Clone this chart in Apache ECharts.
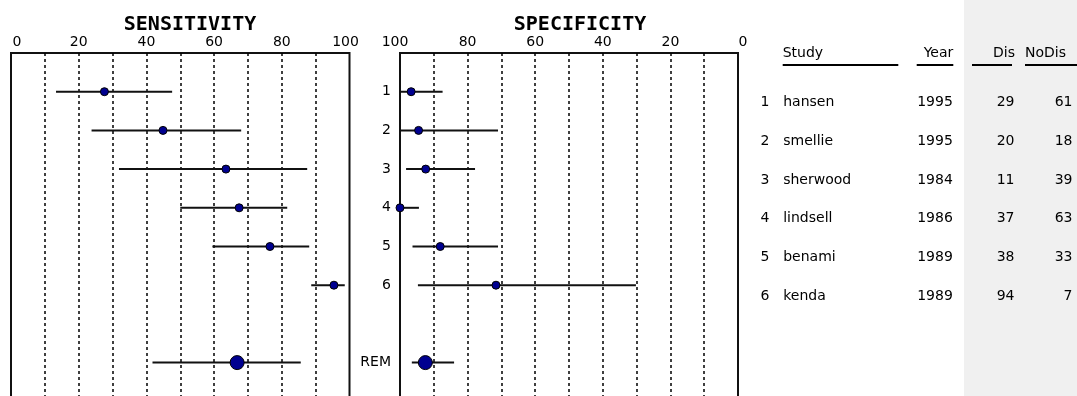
<!DOCTYPE html>
<html><head><meta charset="utf-8">
<script src="https://cdn.jsdelivr.net/npm/echarts@6/dist/echarts.min.js"></script>
<style>html,body{margin:0;padding:0;background:#fff}#c{width:1077px;height:396px}</style>
</head><body><div id="c"></div>
<script>
// ---- data ----
const studyNo   = ['1','2','3','4','5','6'];
const studyName = ['hansen','smellie','sherwood','lindsell','benami','kenda'];
const years     = [1995,1995,1984,1986,1989,1989];
const dis       = [29,20,11,37,38,94];
const noDis     = [61,18,39,63,33,7];
const sensPt = [27.6,44.9,63.5,67.4,76.5,95.4];
const sensLo = [13.3,23.8,31.9,50.0,59.5,88.7];
const sensHi = [47.6,68.0,87.5,81.6,88.1,98.6];
const specPt = [96.7,94.5,92.4,100,88.1,71.6];
const specLo = [87.4,71.0,77.8,94.4,71.0,30.2];
const specHi = [100,100,98.2,100,96.3,94.7];
const pooledLabel = 'REM';
const remSens = [66.8,41.8,85.6]; // point, lo, hi
const remSpec = [92.5,84.0,96.5];
const xTicks = [0,20,40,60,80,100];

// row positions (studies 1..6, pooled after a one-row gap)
const rowPos = studyNo.map((_, i) => i + 1);
const remPos = rowPos.length + 2;
const rowLabelMap = {};
rowPos.forEach((p, i) => rowLabelMap[p] = studyNo[i]);
rowLabelMap[remPos] = pooledLabel;

const FONT = 'DejaVu Sans';
const DOT = '#000090';
const INK = '#000';

function ciData(lo, hi, extraLo, extraHi) {
  const d = rowPos.map((p, i) => [lo[i], hi[i], p]);
  d.push([extraLo, extraHi, remPos]);
  return d;
}
function ptData(pt) { return rowPos.map((p, i) => [pt[i], p]); }

function ciSeries(xi, data) {
  return {
    type: 'custom', xAxisIndex: xi, yAxisIndex: xi, data: data, z: 3,
    renderItem: function (params, api) {
      const a = api.coord([api.value(0), api.value(2)]);
      const b = api.coord([api.value(1), api.value(2)]);
      return { type: 'line', shape: { x1: a[0], y1: a[1], x2: b[0], y2: b[1] },
               style: { stroke: '#111', lineWidth: 2 } };
    }
  };
}
function dotSeries(xi, data, size) {
  return { type: 'scatter', xAxisIndex: xi, yAxisIndex: xi, data: data, symbolSize: size, z: 4,
           itemStyle: { color: DOT, borderColor: '#000', borderWidth: 1, opacity: 1 } };
}

const gridTop = 53, gridH = 348.3;
function xAxisCfg(gi, inverse, minPad, maxPad) {
  return {
    type: 'value', gridIndex: gi, position: 'top', min: 0, max: 100, interval: 10, inverse: inverse,
    axisLine: { show: false }, axisTick: { show: false },
    splitLine: { show: true, showMinLine: false, showMaxLine: false,
                 lineStyle: { color: '#000', type: [3, 3], width: 1.5 } },
    axisLabel: {
      margin: 4, color: INK, fontFamily: FONT, fontSize: 14,
      formatter: v => v === 0 ? '{a|0}' : (v === 100 ? '{b|100}' : (xTicks.indexOf(v) >= 0 ? String(v) : '')),
      rich: {
        a: { fontFamily: FONT, fontSize: 14, color: INK, padding: minPad },
        b: { fontFamily: FONT, fontSize: 14, color: INK, padding: maxPad }
      }
    }
  };
}
function yAxisCfg(gi, showLabels) {
  return {
    type: 'value', gridIndex: gi, min: 0, max: 9, interval: 1, inverse: true,
    axisLine: { show: false }, axisTick: { show: false }, splitLine: { show: false },
    axisLabel: showLabels ? {
      show: true, margin: 9, color: INK, fontFamily: FONT, fontSize: 14,
      formatter: v => rowLabelMap[v] || ''
    } : { show: false }
  };
}

// table columns (grid-relative x positions)
const colNumR = 30, colNameL = 42.7, colYearR = 213.3, colDisR = 275, colNoDisR = 333;
function tableCol(x, values, align) {
  return {
    type: 'scatter', xAxisIndex: 2, yAxisIndex: 2, symbolSize: 1, silent: true,
    itemStyle: { color: 'rgba(0,0,0,0)', opacity: 1 },
    data: rowPos.map((p, i) => [x, p, String(values[i])]),
    label: { show: true, position: align === 'right' ? 'left' : 'right', distance: 0,
             formatter: q => q.value[2], color: INK, fontFamily: FONT, fontSize: 14 }
  };
}

const chart = echarts.init(document.getElementById('c'), null, { renderer: 'canvas' });
const hdrY = 53, ulY = 65;
function hdr(text, x, align) {
  return { type: 'text', x: x, y: hdrY, z: 10,
           style: { text: text, fill: INK, font: '14px ' + FONT, textAlign: align, textVerticalAlign: 'middle' } };
}
function ul(x1, x2) {
  return { type: 'line', z: 10, shape: { x1: x1, y1: ulY, x2: x2, y2: ulY }, style: { stroke: INK, lineWidth: 2 } };
}

chart.setOption({
  animation: false,
  backgroundColor: '#fff',
  title: [
    { text: 'SENSITIVITY', left: 185, top: 10, textAlign: 'center',
      textStyle: { fontFamily: 'DejaVu Sans Mono', fontWeight: 'bold', fontSize: 20, color: INK } },
    { text: 'SPECIFICITY', left: 575, top: 10, textAlign: 'center',
      textStyle: { fontFamily: 'DejaVu Sans Mono', fontWeight: 'bold', fontSize: 20, color: INK } }
  ],
  graphic: [
    { type: 'rect', z: -10, shape: { x: 964, y: 0, width: 113, height: 396 }, style: { fill: '#f0f0f0' } },
    hdr('Study', 782.7, 'left'), ul(782.7, 898.3),
    hdr('Year', 953.3, 'right'), ul(916.7, 953.3),
    hdr('Dis', 1015, 'right'), ul(972, 1012),
    hdr('NoDis', 1025, 'left'), ul(1025, 1077)
  ],
  grid: [
    { left: 11, width: 338.5, top: gridTop, height: gridH, outerBoundsMode: 'none', show: true, borderColor: '#111', borderWidth: 2, backgroundColor: 'transparent' },
    { left: 400, width: 338, top: gridTop, height: gridH, outerBoundsMode: 'none', show: true, borderColor: '#111', borderWidth: 2, backgroundColor: 'transparent' },
    { left: 740, width: 337, top: gridTop + 11, height: gridH, outerBoundsMode: 'none' }
  ],
  xAxis: [
    xAxisCfg(0, false, [0, 0, 0, 12], [0, 8, 0, 0]),
    xAxisCfg(1, true, [0, 0, 0, 10], [0, 10, 0, 0]),
    { type: 'value', gridIndex: 2, min: 0, max: 337, show: false }
  ],
  yAxis: [ yAxisCfg(0, false), yAxisCfg(1, true), Object.assign(yAxisCfg(2, false), { show: false }) ],
  series: [
    ciSeries(0, ciData(sensLo, sensHi, remSens[1], remSens[2])),
    dotSeries(0, ptData(sensPt), 8),
    dotSeries(0, [[remSens[0], remPos]], 14),
    ciSeries(1, ciData(specLo, specHi, remSpec[1], remSpec[2])),
    dotSeries(1, ptData(specPt), 8),
    dotSeries(1, [[remSpec[0], remPos]], 14),
    tableCol(colNumR, studyNo, 'right'),
    tableCol(colNameL, studyName, 'left'),
    tableCol(colYearR, years, 'right'),
    tableCol(colDisR, dis, 'right'),
    tableCol(colNoDisR, noDis, 'right')
  ]
});
</script>
</body></html>
